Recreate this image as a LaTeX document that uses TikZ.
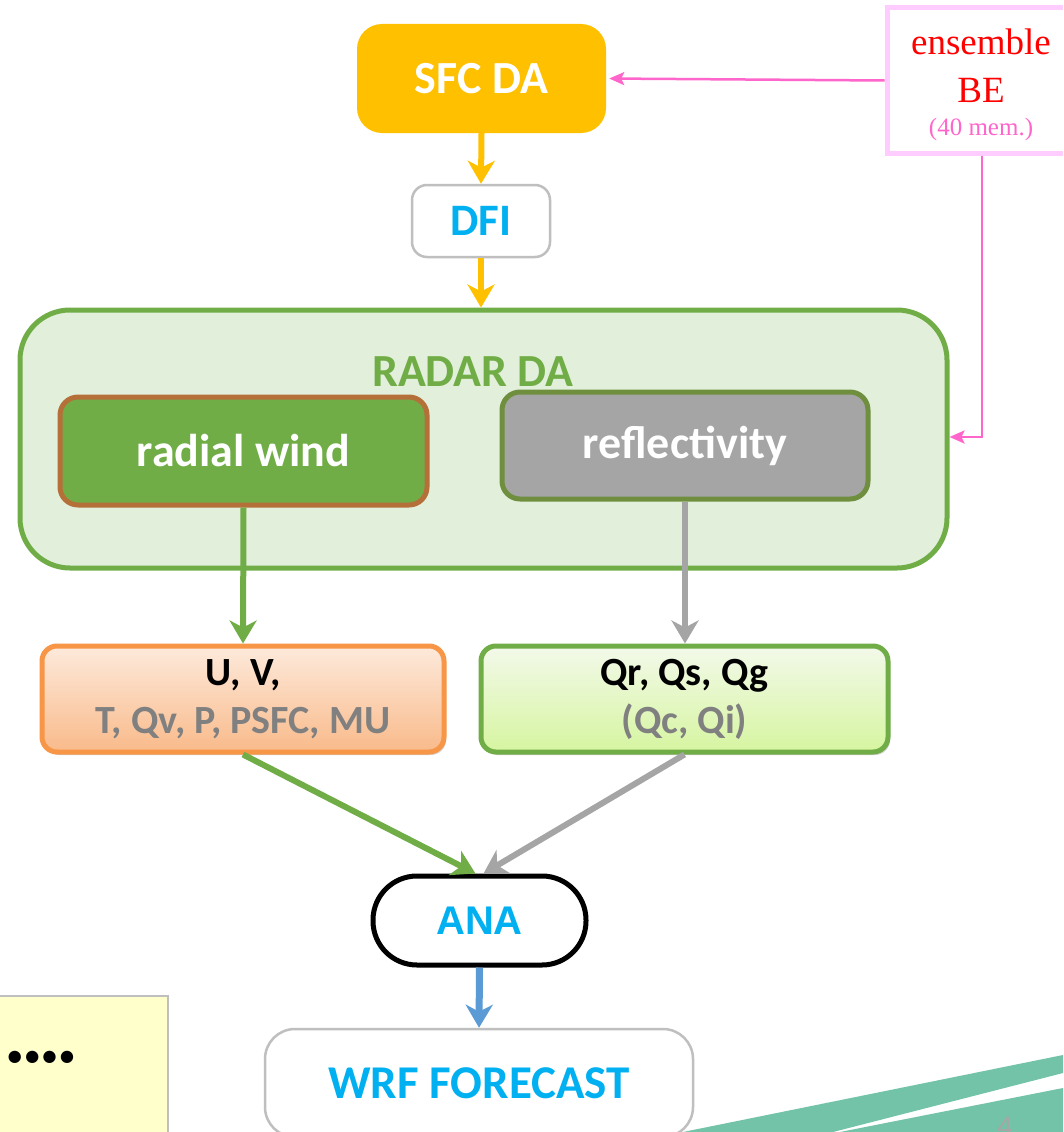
\documentclass[tikz,border=0pt]{standalone}
\usepackage{fontspec}
\setmainfont{Carlito}
\newfontfamily\arialf{Liberation Sans}
\newfontfamily\timesf{Liberation Serif}
\usetikzlibrary{arrows.meta,shadows}
\definecolor{sfcyel}{HTML}{FFC000}
\definecolor{txtblue}{HTML}{00B0F0}
\definecolor{boxgray}{HTML}{BFBFBF}
\definecolor{pinkln}{HTML}{FF66CC}
\definecolor{pinkbox}{HTML}{FFCCFF}
\definecolor{grn}{HTML}{70AD47}
\definecolor{lgrn}{HTML}{E2EFDA}
\definecolor{brownb}{HTML}{B5703A}
\definecolor{olive}{HTML}{6F8F3F}
\definecolor{gryf}{HTML}{A5A5A5}
\definecolor{orgb}{HTML}{F79646}
\definecolor{orgtop}{HTML}{FDEADC}
\definecolor{orgbot}{HTML}{F9BA8A}
\definecolor{qtop}{HTML}{F3F9EA}
\definecolor{qbot}{HTML}{D6F5A0}
\definecolor{txtgray}{HTML}{808080}
\definecolor{arrblue}{HTML}{5B9BD5}
\definecolor{yelbox}{HTML}{FFFFCC}
\definecolor{teal}{HTML}{72C3A7}
\tikzset{
  fs/.style={font=\fontsize{#1}{#1}\selectfont\bfseries},
  bigtip/.style={-{Stealth[length=23pt,width=27pt,inset=7pt]}},
  pinktip/.style={-{Stealth[length=15pt,width=13pt,inset=3pt]}},
  flow/.style={line width=6pt,bigtip},
  sh/.style={drop shadow={opacity=0.35,shadow xshift=2pt,shadow yshift=-3pt}}
}
\begin{document}
\begin{tikzpicture}[x=1pt,y=-1pt]
\clip (0,0) rectangle (1063,1132);
\fill[white] (0,0) rectangle (1063,1132);
% decorative bands
\fill[teal] (683,1132) -- (1063,1055) -- (1063,1073) -- (833,1132) -- cycle;
\fill[teal] (840,1132) -- (1063,1088) -- (1063,1132) -- cycle;
\node[anchor=north west,inner sep=0pt,text=txtgray!70,font=\fontsize{30}{30}\selectfont] (pgnum) at (997,1117) {4};

% yellow box
\node[draw=boxgray,line width=2pt,fill=yelbox,minimum width=173pt,minimum height=149pt,inner sep=0pt] (yb) at (81.5,1070) {};
\node[fs=29,anchor=center,inner sep=0pt] (dots) at (41,1058) {•\kern3pt•\kern3pt•\kern3pt•};

% SFC DA
\node[fill=sfcyel,rounded corners=25pt,minimum width=249pt,minimum height=109pt,inner sep=0pt,text=white,fs=46] (sfc) at (481.5,78.5) {SFC DA};
% DFI
\node[draw=boxgray,line width=2.5pt,fill=white,rounded corners=15pt,minimum width=138pt,minimum height=72pt,inner sep=0pt,text=txtblue,fs=45] (dfi) at (481,221) {DFI};

% ensemble BE
\node[draw=pinkbox,line width=5pt,fill=white,minimum width=200pt,minimum height=145pt,inner sep=0pt] (ens) at (987,80.5) {};
\node[anchor=base,text=red,font=\timesf\fontsize{37}{37}\selectfont,inner sep=0pt] (ens1) at (981,55) {ensemble};
\node[anchor=base,text=red,font=\timesf\fontsize{37}{37}\selectfont,inner sep=0pt] (ens2) at (981,102) {BE};
\node[anchor=base,text=pinkln,font=\timesf\fontsize{25}{25}\selectfont,inner sep=0pt] (ens3) at (981,135) {(40 mem.)};

% RADAR DA
\node[draw=grn,line width=5pt,fill=lgrn,rounded corners=50pt,minimum width=927pt,minimum height=258pt,inner sep=0pt] (radar) at (483.5,439) {};
\node[text=grn,fs=46,inner sep=0pt] (radtitle) at (473,372) {RADAR DA};
\node[draw=brownb,line width=5pt,fill=grn,rounded corners=18pt,minimum width=367pt,minimum height=108pt,inner sep=0pt,text=white,fs=46] (wind) at (243.5,451) {radial wind};
\node[draw=olive,line width=5pt,fill=gryf,rounded corners=18pt,minimum width=366pt,minimum height=107pt,inner sep=0pt,text=white,fs=46] (refl) at (685,445.5) {reflectivity};

% output boxes
\node[sh,draw=orgb,line width=5pt,top color=orgtop,bottom color=orgbot,rounded corners=15pt,minimum width=402pt,minimum height=106pt,inner sep=0pt,align=center,fs=40] (uv) at (243,699)
  {U, V,\\[8pt]\textcolor{txtgray}{T, Qv, P, PSFC, MU}};
\node[sh,draw=grn,line width=5pt,top color=qtop,bottom color=qbot,rounded corners=15pt,minimum width=407pt,minimum height=106pt,inner sep=0pt,align=center,fs=40] (q) at (684.5,699)
  {Qr, Qs, Qg\\[8pt]\textcolor{txtgray}{(Qc, Qi)}};

% ANA
\node[draw=black,line width=5pt,fill=white,rounded corners=44pt,minimum width=213pt,minimum height=89pt,inner sep=0pt,text=txtblue,font=\arialf\bfseries\fontsize{40}{40}\selectfont] (ana) at (479.5,920.5) {ANA};
% WRF
\node[draw=boxgray,line width=2.5pt,fill=white,rounded corners=30pt,minimum width=428pt,minimum height=108pt,inner sep=0pt,text=txtblue,fs=47] (wrf) at (479,1083) {WRF FORECAST};

% connectors
\draw[sfcyel,flow] (sfc.south) -- (dfi.north);
\draw[sfcyel,flow] (dfi.south) -- (dfi.south |- radar.north);
\draw[pinkln,line width=2.5pt,pinktip,shorten >=3pt] (ens.west) -- (sfc.east);
\coordinate (pk) at (982,437);
\draw[pinkln,line width=2.5pt,pinktip] (ens.south -| pk) -- (pk) -- (pk -| radar.east);
\draw[grn,flow] (wind.south) -- (uv.north);
\draw[gryf,flow] (refl.south) -- (refl.south |- q.north);
\draw[grn,flow] (uv.south) -- ([xshift=-4pt]ana.north);
\draw[gryf,flow] (q.south) -- ([xshift=4pt]ana.north);
\draw[arrblue,line width=7pt,bigtip] (ana.south) -- (wrf.north);
\end{tikzpicture}
\end{document}
